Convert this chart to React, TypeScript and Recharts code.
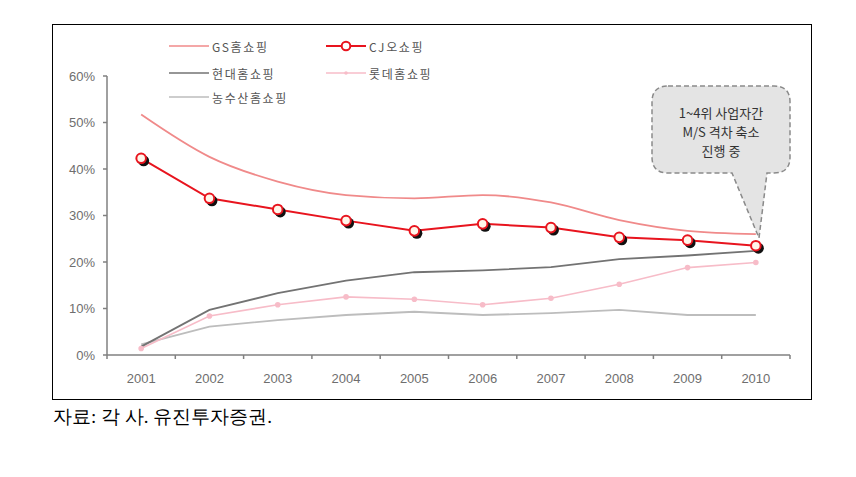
import { LineChart, Line, XAxis, YAxis } from 'recharts'

const years = ['2001', '2002', '2003', '2004', '2005', '2006', '2007', '2008', '2009', '2010']
const gsShare = [51.7, 42.6, 37.3, 34.4, 33.7, 34.4, 32.8, 29.0, 26.7, 26.0]
const cjShare = [42.3, 33.7, 31.3, 28.9, 26.7, 28.2, 27.4, 25.3, 24.7, 23.5]
const hyundaiShare = [1.8, 9.7, 13.3, 16.0, 17.8, 18.2, 18.9, 20.6, 21.4, 22.4]
const lotteShare = [1.4, 8.4, 10.8, 12.5, 12.0, 10.8, 12.2, 15.2, 18.8, 19.9]
const nongsusanShare = [2.3, 6.1, 7.5, 8.6, 9.3, 8.6, 9.0, 9.7, 8.6, 8.6]
const yTicks = [0, 10, 20, 30, 40, 50, 60]

const data = years.map((year, i) => ({
  year,
  gs: gsShare[i],
  cj: cjShare[i],
  hyundai: hyundaiShare[i],
  lotte: lotteShare[i],
  nongsusan: nongsusanShare[i],
}))

const GS_COLOR = '#f08a8a'
const CJ_COLOR = '#e8141e'
const HYUNDAI_COLOR = '#737373'
const LOTTE_COLOR = '#f7bcc8'
const NONGSUSAN_COLOR = '#bdbdbd'
const AXIS_COLOR = '#808080'
const FONT = '"Liberation Sans", Arial, "Noto Sans CJK KR", sans-serif'
const KFONT = '"Noto Sans CJK KR", "Liberation Sans", sans-serif'

const PLOT_LEFT = 107
const PLOT_RIGHT = 790
const AXIS_Y = 355
const STEP = (PLOT_RIGHT - PLOT_LEFT) / years.length

function CjDot(props: any) {
  const { cx, cy, index } = props
  if (cx == null || cy == null) return null
  return (
    <g key={`cj-${index}`}>
      <circle cx={cx + 2.5} cy={cy + 2.5} r={5.5} fill="#111" />
      <circle cx={cx} cy={cy} r={4.8} fill="#fff6ea" stroke={CJ_COLOR} strokeWidth={2} />
    </g>
  )
}

function YearTick(props: any) {
  const { x, payload, index } = props
  const bx = x - STEP / 2
  return (
    <g>
      <line x1={bx} x2={bx} y1={AXIS_Y} y2={AXIS_Y + 4} stroke={AXIS_COLOR} strokeWidth={1.5} />
      {index === years.length - 1 && (
        <line x1={x + STEP / 2} x2={x + STEP / 2} y1={AXIS_Y} y2={AXIS_Y + 4} stroke={AXIS_COLOR} strokeWidth={1.5} />
      )}
      <text x={x} y={AXIS_Y + 23} textAnchor="middle" dominantBaseline="central" fontSize={13} fill="#6e6e6e" fontFamily={FONT}>
        {payload.value}
      </text>
    </g>
  )
}

function LegendItem({ x, y, color, label, marker }: { x: number; y: number; color: string; label: string; marker?: 'cj' | 'lotte' }) {
  return (
    <g>
      <line x1={x} x2={x + 40} y1={y} y2={y} stroke={color} strokeWidth={marker === 'cj' ? 2 : 1.5} />
      {marker === 'cj' && <circle cx={x + 20} cy={y} r={4.3} fill="#fff" stroke={CJ_COLOR} strokeWidth={2} />}
      {marker === 'lotte' && <circle cx={x + 20} cy={y} r={1.8} fill={color} />}
      <text x={x + 43} y={y} dominantBaseline="central" fontSize={12} fill="#555" fontFamily={KFONT} letterSpacing={1.6}>
        {label}
      </text>
    </g>
  )
}

export default function App() {
  return (
    <div style={{ position: 'absolute', left: 0, top: 0, width: 856, height: 477, background: '#fff' }}>
      <div
        style={{
          position: 'absolute',
          left: 52,
          top: 24,
          width: 760,
          height: 376,
          border: '1.5px solid #000',
          boxSizing: 'border-box',
        }}
      />
      <div style={{ position: 'absolute', left: 0, top: 0 }}>
        <LineChart width={856} height={477} data={data} margin={{ top: 76, right: 856 - PLOT_RIGHT, bottom: 92, left: PLOT_LEFT - 50 }}>
          <XAxis
            dataKey="year"
            padding={{ left: STEP / 2, right: STEP / 2 }}
            axisLine={{ stroke: AXIS_COLOR, strokeWidth: 1.5 }}
            tickLine={false}
            tick={<YearTick />}
            height={30}
            interval={0}
          />
          <YAxis
            domain={[0, 60]}
            ticks={yTicks}
            width={50}
            tickFormatter={(v) => `${v}%`}
            axisLine={{ stroke: AXIS_COLOR, strokeWidth: 1.5 }}
            tickLine={{ stroke: AXIS_COLOR, strokeWidth: 1.5 }}
            tickSize={4}
            tickMargin={8}
            tick={{ fontSize: 13, fill: '#6e6e6e', fontFamily: FONT }}
          />
          <Line type="linear" dataKey="nongsusan" stroke={NONGSUSAN_COLOR} strokeWidth={1.8} dot={false} isAnimationActive={false} />
          <Line
            type="linear"
            dataKey="lotte"
            stroke={LOTTE_COLOR}
            strokeWidth={1.6}
            dot={{ r: 2, fill: LOTTE_COLOR, stroke: LOTTE_COLOR }}
            isAnimationActive={false}
          />
          <Line type="linear" dataKey="hyundai" stroke={HYUNDAI_COLOR} strokeWidth={1.8} dot={false} isAnimationActive={false} />
          <Line type="monotone" dataKey="gs" stroke={GS_COLOR} strokeWidth={1.8} dot={false} isAnimationActive={false} />
          <Line type="linear" dataKey="cj" stroke={CJ_COLOR} strokeWidth={2} dot={<CjDot />} isAnimationActive={false} />
        </LineChart>
      </div>
      <svg width={856} height={477} style={{ position: 'absolute', left: 0, top: 0, pointerEvents: 'none' }}>
        <LegendItem x={169} y={46} color={GS_COLOR} label="GS홈쇼핑" />
        <LegendItem x={326} y={46} color={CJ_COLOR} label="CJ오쇼핑" marker="cj" />
        <LegendItem x={169} y={73} color={HYUNDAI_COLOR} label="현대홈쇼핑" />
        <LegendItem x={326} y={73} color={LOTTE_COLOR} label="롯데홈쇼핑" marker="lotte" />
        <LegendItem x={169} y={97} color={NONGSUSAN_COLOR} label="농수산홈쇼핑" />
        <path
          d="M 668 86 H 774 Q 790 86 790 102 V 157 Q 790 173 774 173 H 767 L 759 238 L 732 173 H 668 Q 652 173 652 157 V 102 Q 652 86 668 86 Z"
          fill="#e4e4e4"
          stroke="#8a8a8a"
          strokeWidth={1.5}
          strokeDasharray="5 3"
        />
        <g fontFamily={KFONT} fontSize={13} fill="#333" textAnchor="middle">
          <text x={721} y={112} dominantBaseline="central">1~4위 사업자간</text>
          <text x={721} y={131} dominantBaseline="central">M/S 격차 축소</text>
          <text x={721} y={150} dominantBaseline="central">진행 중</text>
        </g>
      </svg>
      <div
        style={{
          position: 'absolute',
          left: 53,
          top: 405,
          fontSize: 19,
          lineHeight: '24px',
          color: '#000',
          fontFamily: 'serif',
          whiteSpace: 'nowrap',
        }}
      >
        자료: 각 사. 유진투자증권.
      </div>
    </div>
  )
}
